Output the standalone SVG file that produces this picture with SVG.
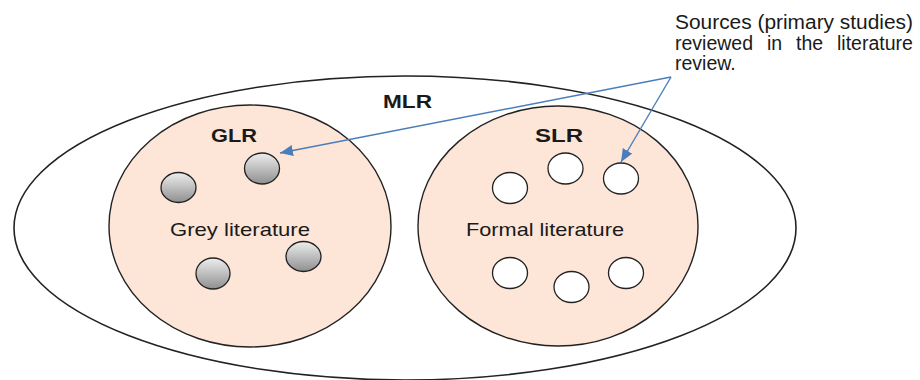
<svg xmlns="http://www.w3.org/2000/svg" width="920" height="380" viewBox="0 0 920 380">
  <style>
    .outer { fill: #ffffff; stroke: #222222; stroke-width: 1.6; }
    .set { fill: #fde5d7; stroke: #222222; stroke-width: 1.4; }
    .grey { fill: url(#greyGrad); stroke: #222222; stroke-width: 1.3; }
    .white { fill: #ffffff; stroke: #222222; stroke-width: 1.3; }
    .lbl { font-family: "Liberation Sans", Arial, sans-serif; font-size: 19px; fill: #1a1a1a; }
    .bold { font-weight: bold; }
    .note { font-family: "Liberation Sans", Arial, sans-serif; font-size: 19.5px; fill: #1a1a1a; }
    .conn { stroke: #4a7ebb; stroke-width: 1.4; fill: none; marker-end: url(#arrow); }
  </style>
  <defs>
    <linearGradient id="greyGrad" x1="0" y1="0" x2="0" y2="1">
      <stop offset="0" stop-color="#eeeeee"/>
      <stop offset="1" stop-color="#8f8f8f"/>
    </linearGradient>
    <marker id="arrow" markerUnits="userSpaceOnUse" markerWidth="14" markerHeight="12" refX="13" refY="6" orient="auto">
      <path d="M0,0.5 L13,6 L0,11.5 Z" fill="#4a7ebb"/>
    </marker>
  </defs>

  <g id="MLR">
    <ellipse class="outer" cx="405" cy="228" rx="391" ry="152"/>
    <text class="lbl bold" x="383" y="107.5" textLength="49" lengthAdjust="spacingAndGlyphs">MLR</text>
  </g>

  <g id="GLR">
    <ellipse class="set" cx="250" cy="226" rx="141" ry="121"/>
    <text class="lbl bold" x="211" y="141.5" textLength="46" lengthAdjust="spacingAndGlyphs">GLR</text>
    <text class="lbl" x="170" y="236" textLength="140" lengthAdjust="spacingAndGlyphs">Grey literature</text>
  </g>

  <g id="SLR">
    <ellipse class="set" cx="558" cy="226" rx="140" ry="120"/>
    <text class="lbl bold" x="535" y="141.5" textLength="48" lengthAdjust="spacingAndGlyphs">SLR</text>
    <text class="lbl" x="466" y="236" textLength="158" lengthAdjust="spacingAndGlyphs">Formal literature</text>
  </g>

  <g id="grey-sources">
    <ellipse class="grey" cx="178.5" cy="187.5" rx="17.5" ry="15"/>
    <ellipse class="grey" cx="262" cy="168.5" rx="17.5" ry="15.5"/>
    <ellipse class="grey" cx="213" cy="273.5" rx="17" ry="15.5"/>
    <ellipse class="grey" cx="303.5" cy="256.5" rx="17.5" ry="15"/>
  </g>

  <g id="formal-sources">
    <ellipse class="white" cx="510" cy="188" rx="17.5" ry="15.5"/>
    <ellipse class="white" cx="565.5" cy="168.5" rx="17.5" ry="15.5"/>
    <ellipse class="white" cx="621" cy="178.5" rx="17.5" ry="15.5"/>
    <ellipse class="white" cx="510" cy="273" rx="17.5" ry="15.5"/>
    <ellipse class="white" cx="571.5" cy="287" rx="17.5" ry="15.5"/>
    <ellipse class="white" cx="626" cy="273" rx="17.5" ry="15.5"/>
  </g>

  <g id="note">
    <text class="note" x="675" y="28.5" textLength="238" lengthAdjust="spacingAndGlyphs">Sources (primary studies)</text>
    <text class="note" y="49.5"><tspan x="675">reviewed</tspan> <tspan x="767">in</tspan> <tspan x="796">the</tspan> <tspan x="837">literature</tspan></text>
    <text class="note" x="675" y="70">review.</text>
  </g>

  <g id="connectors">
    <line class="conn" x1="671" y1="77" x2="280" y2="153"/>
    <line class="conn" x1="671" y1="77" x2="621" y2="162"/>
  </g>
</svg>
